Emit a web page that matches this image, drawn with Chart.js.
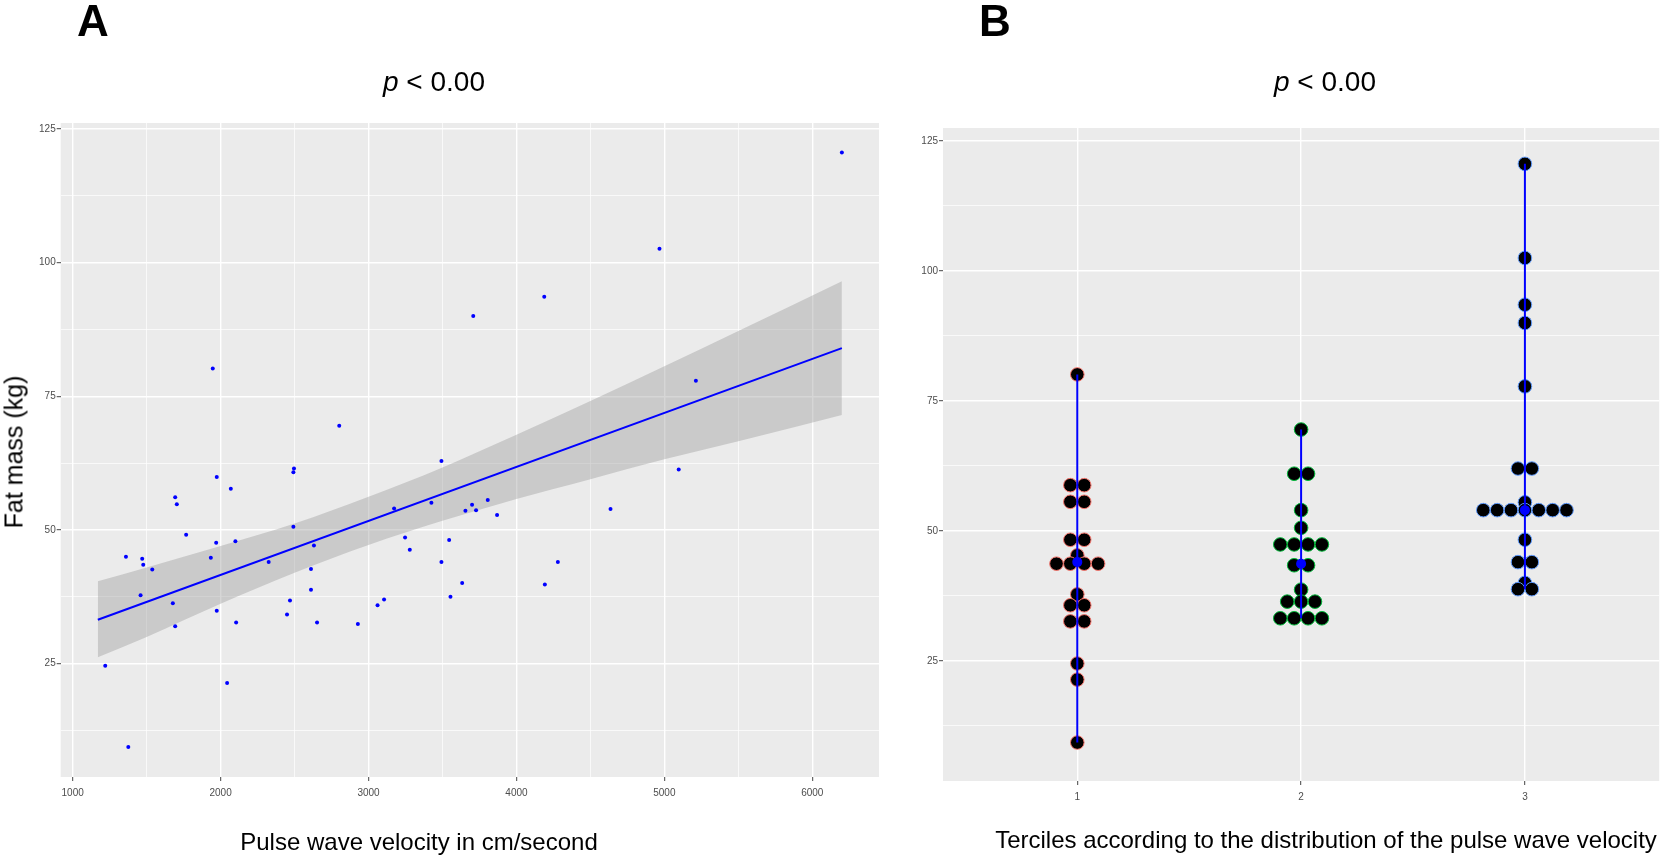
<!DOCTYPE html>
<html>
<head>
<meta charset="utf-8">
<script src="https://cdn.jsdelivr.net/npm/chart.js@4.4.1/dist/chart.umd.min.js"></script>
<style>
body { margin: 0; background: #fff; width: 1667px; height: 856px; overflow: hidden; position: relative; font-family: "Liberation Sans", Arial, sans-serif; }
canvas { position: absolute; top: 0; }
.txt { position: absolute; transform: translate(-50%, -50%); white-space: nowrap; color: #000; line-height: 1; }
</style>
</head>
<body>
<canvas id="panelA" width="905" height="856" style="left:0px"></canvas>
<canvas id="panelB" width="762" height="856" style="left:905px"></canvas>

<div class="txt" style="left:93px; top:21px; font-size:44px; font-weight:bold;">A</div>
<div class="txt" style="left:995px; top:21px; font-size:44px; font-weight:bold;">B</div>
<div class="txt" style="left:434px; top:82px; font-size:28px;"><i>p</i> &lt; 0.00</div>
<div class="txt" style="left:1325px; top:82px; font-size:28px;"><i>p</i> &lt; 0.00</div>
<div class="txt" style="left:14px; top:452px; font-size:25px; transform:translate(-50%,-50%) rotate(-90deg);">Fat mass (kg)</div>
<div class="txt" style="left:419px; top:842px; font-size:24px;">Pulse wave velocity in cm/second</div>
<div class="txt" style="left:1326px; top:840px; font-size:24px;">Terciles according to the distribution of the pulse wave velocity</div>

<script>
// Panel A: scatter of fat mass against pulse wave velocity
var pwv = [1220, 1376, 1360, 1470, 1477, 1538, 1459, 1677, 1693, 1693,
           1704, 1767, 1974, 2069, 1970, 2100, 1934, 1974, 2105, 2044,
           2325, 2496, 2492, 2492, 2469, 2449, 2631, 2611, 2611, 2652,
           2802, 2928, 3061, 3105, 3173, 3247, 3279, 3425, 3493, 3545,
           3493, 3554, 1947, 3633, 3655, 3700, 3727, 3806, 3869, 4192,
           4280, 4636, 5097, 3708, 4188, 4967, 5213, 6200];
var fatMass = [24.6, 9.4, 45.0, 44.6, 43.5, 42.6, 37.8, 36.3, 32.0, 56.1,
               54.8, 49.1, 59.9, 57.7, 47.6, 47.9, 44.8, 34.9, 32.7, 21.4,
               44.0, 61.5, 60.8, 50.6, 36.8, 34.2, 47.1, 42.7, 38.8, 32.7,
               69.5, 32.4, 35.9, 37.0, 54.0, 48.6, 46.3, 55.1, 62.9, 48.1,
               44.0, 37.5, 80.2, 40.1, 53.6, 54.7, 53.7, 55.6, 52.8, 39.8,
               44.0, 53.9, 61.3, 90.0, 93.6, 102.6, 77.9, 120.6];

// fitted line and its confidence band
var fitX = [1170, 6200];
var fitY = [33.2, 84.0];
var bandX = [1170, 1500, 2000, 2500, 3000, 3500, 4000, 4500, 5000, 5500, 6200];
var bandLow = [26.2, 30.0, 36.2, 42.0, 47.2, 51.7, 55.8, 59.5, 63.2, 66.6, 71.5];
var bandHigh = [40.4, 43.0, 47.0, 51.2, 56.2, 61.7, 67.8, 74.1, 80.6, 87.2, 96.5];

var xTicksA = [1000, 1500, 2000, 2500, 3000, 3500, 4000, 4500, 5000, 5500, 6000];
var yTicks = [12.5, 25, 37.5, 50, 62.5, 75, 87.5, 100, 112.5, 125];

// Panel B: dot plot per tercile (bin value and number of dots in that row)
var terciles = [1, 2, 3];
var t1Bins = [80.1, 58.8, 55.6, 48.3, 45.3, 43.7, 37.8, 35.7, 32.6, 24.5, 21.4, 9.3];
var t1Counts = [1, 2, 2, 2, 1, 4, 1, 2, 2, 1, 1, 1];
var t2Bins = [69.5, 61.0, 54.0, 50.6, 47.4, 43.4, 38.7, 36.4, 33.2];
var t2Counts = [1, 2, 1, 1, 4, 2, 1, 3, 4];
var t3Bins = [120.6, 102.5, 93.5, 90.0, 77.8, 62.0, 55.5, 54.0, 48.3, 44.0, 40.0, 38.8];
var t3Counts = [1, 1, 1, 1, 1, 2, 1, 7, 1, 2, 1, 2];
var medians = [44.0, 43.7, 54.0];
var outlineColors = ['#F8766D', '#00BA38', '#619CFF'];

var panelBg = {
    id: 'panelBg',
    beforeDraw: function(chart) {
        var a = chart.chartArea;
        var c = chart.ctx;
        c.save();
        c.fillStyle = '#EBEBEB';
        c.fillRect(a.left, a.top, a.right - a.left, a.bottom - a.top);
        c.restore();
    }
};

function gridOpts(isMajor) {
    return {
        color: '#FFFFFF',
        lineWidth: function(c) { return c.tick && isMajor(c.tick.value) ? 1.4 : 0.7; },
        drawTicks: true,
        tickLength: 4,
        tickWidth: 1,
        tickColor: function(c) { return c.tick && isMajor(c.tick.value) ? '#444444' : 'rgba(0,0,0,0)'; }
    };
}

var tickFont = { family: '"Liberation Sans", Arial, sans-serif', size: 10 };
function yMajor(v) { return v % 25 === 0; }

function yScale(min, max, width) {
    return {
        type: 'linear', min: min, max: max,
        afterBuildTicks: function(s) { s.ticks = yTicks.map(function(v) { return { value: v }; }); },
        afterFit: function(s) { s.width = width; },
        ticks: { color: '#4D4D4D', font: tickFont, padding: 1,
                 callback: function(v) { return yMajor(v) ? v : ''; } },
        grid: gridOpts(yMajor),
        border: { display: false }
    };
}

function toPoints(xs, ys) {
    return xs.map(function(x, i) { return { x: x, y: ys[i] }; });
}

// ---- panel A ----
new Chart(document.getElementById('panelA'), {
    type: 'scatter',
    data: {
        datasets: [
            { data: toPoints(pwv, fatMass), backgroundColor: '#0000FF', borderWidth: 0, pointRadius: 2, order: 0 },
            { type: 'line', data: toPoints(fitX, fitY), borderColor: '#0000FF', borderWidth: 2, pointRadius: 0, fill: false, order: 1 },
            { type: 'line', data: toPoints(bandX, bandHigh), borderWidth: 0, borderColor: 'rgba(0,0,0,0)', pointRadius: 0,
              cubicInterpolationMode: 'monotone', fill: '+1', backgroundColor: 'rgba(153,153,153,0.4)', order: 2 },
            { type: 'line', data: toPoints(bandX, bandLow), borderWidth: 0, borderColor: 'rgba(0,0,0,0)', pointRadius: 0,
              cubicInterpolationMode: 'monotone', fill: false, order: 3 }
        ]
    },
    options: {
        responsive: false,
        animation: false,
        events: [],
        layout: { padding: { left: 0, right: 26, top: 123, bottom: 49 } },
        plugins: { legend: { display: false }, tooltip: { enabled: false } },
        scales: {
            x: {
                type: 'linear', min: 919, max: 6451,
                afterBuildTicks: function(s) { s.ticks = xTicksA.map(function(v) { return { value: v }; }); },
                afterFit: function(s) { s.height = 30; },
                ticks: { color: '#4D4D4D', font: tickFont, padding: 6, maxRotation: 0, autoSkip: false,
                         callback: function(v) { return v % 1000 === 0 ? v : ''; } },
                grid: gridOpts(function(v) { return v % 1000 === 0; }),
                border: { display: false }
            },
            y: yScale(3.8, 126.1, 60.7)
        }
    },
    plugins: [panelBg]
});

// ---- panel B ----
var dotStep = 0.062;
function dotPoints(t, bins, counts) {
    var pts = [];
    bins.forEach(function(v, i) {
        var n = counts[i];
        for (var k = 0; k < n; k++) {
            pts.push({ x: t + (k - (n - 1) / 2) * dotStep, y: v });
        }
    });
    return pts;
}

var allBins = [t1Bins, t2Bins, t3Bins];
var allCounts = [t1Counts, t2Counts, t3Counts];
var bDatasets = [];

bDatasets.push({ data: toPoints(terciles, medians), backgroundColor: '#0000FF', borderWidth: 0, pointRadius: 5, order: 0 });
terciles.forEach(function(t, i) {
    var bins = allBins[i];
    bDatasets.push({ type: 'line', data: [{ x: t, y: Math.min.apply(null, bins) }, { x: t, y: Math.max.apply(null, bins) }],
                     borderColor: '#0000FF', borderWidth: 2, pointRadius: 0, fill: false, order: 1 });
    bDatasets.push({ data: dotPoints(t, bins, allCounts[i]), backgroundColor: '#000000',
                     borderColor: outlineColors[i], borderWidth: 1, pointRadius: 6.8, order: 2 });
});

new Chart(document.getElementById('panelB'), {
    type: 'scatter',
    data: { datasets: bDatasets },
    options: {
        responsive: false,
        animation: false,
        events: [],
        layout: { padding: { left: 0, right: 4, top: 128, bottom: 45 } },
        plugins: { legend: { display: false }, tooltip: { enabled: false } },
        scales: {
            x: {
                type: 'linear', min: 0.4, max: 3.6,
                afterBuildTicks: function(s) { s.ticks = terciles.map(function(v) { return { value: v }; }); },
                afterFit: function(s) { s.height = 30; },
                ticks: { color: '#4D4D4D', font: tickFont, padding: 6, maxRotation: 0, autoSkip: false,
                         callback: function(v) { return v; } },
                grid: gridOpts(function() { return true; }),
                border: { display: false }
            },
            y: yScale(1.9, 127.5, 38)
        }
    },
    plugins: [panelBg]
});
</script>
</body>
</html>
